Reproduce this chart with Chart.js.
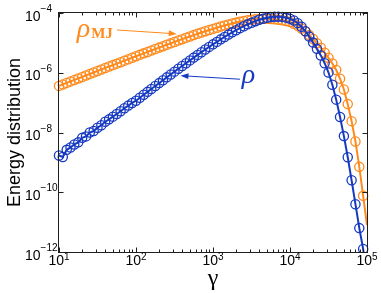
<!DOCTYPE html>
<html>
<head>
<meta charset="utf-8">
<script src="https://cdn.jsdelivr.net/npm/chart.js@4.4.1/dist/chart.umd.min.js"></script>
<style>
  html, body { margin: 0; padding: 0; background: #fff; }
  canvas { display: block; }
</style>
</head>
<body>
<canvas id="myChart" width="381" height="293"></canvas>
<script>
// gamma grid (20 points per decade)
const gamma = [10, 11.2, 12.6, 14.1, 15.8, 17.8, 20, 22.4, 25.1, 28.2,
  31.6, 35.5, 39.8, 44.7, 50.1, 56.2, 63.1, 70.8, 79.4, 89.1,
  100, 112, 126, 141, 158, 178, 200, 224, 251, 282,
  316, 355, 398, 447, 501, 562, 631, 708, 794, 891,
  1000, 1122, 1259, 1413, 1585, 1778, 1995, 2239, 2512, 2818,
  3162, 3548, 3981, 4467, 5012, 5623, 6310, 7079, 7943, 8913,
  10000, 11220, 12589, 14125, 15849, 17783, 19953, 22387, 25119, 28184,
  31623, 35481, 39811, 44668, 50119, 56234, 63096, 70795, 79433, 89125,
  100000];

// Maxwell-Juttner energy distribution (orange)
const rhoMJ = [3.63e-7, 4.07e-7, 4.57e-7, 5.13e-7, 5.75e-7, 6.46e-7, 7.24e-7, 8.13e-7, 9.12e-7, 1.02e-6,
  1.15e-6, 1.29e-6, 1.45e-6, 1.62e-6, 1.80e-6, 2.02e-6, 2.26e-6, 2.54e-6, 2.84e-6, 3.18e-6,
  3.56e-6, 3.98e-6, 4.46e-6, 4.98e-6, 5.57e-6, 6.22e-6, 6.95e-6, 7.76e-6, 8.65e-6, 9.64e-6,
  1.07e-5, 1.20e-5, 1.33e-5, 1.48e-5, 1.64e-5, 1.82e-5, 2.01e-5, 2.22e-5, 2.44e-5, 2.69e-5,
  2.94e-5, 3.22e-5, 3.52e-5, 3.82e-5, 4.13e-5, 4.46e-5, 4.78e-5, 5.09e-5, 5.40e-5, 5.69e-5,
  5.94e-5, 6.15e-5, 6.30e-5, 6.38e-5, 6.40e-5, 6.32e-5, 6.17e-5, 5.96e-5, 5.69e-5, 5.37e-5,
  5.01e-5, 4.37e-5, 3.72e-5, 3.02e-5, 2.40e-5, 1.82e-5, 1.35e-5, 9.77e-6, 6.92e-6, 4.68e-6,
  3.16e-6, 2.04e-6, 1.23e-6, 6.31e-7, 2.75e-7, 8.91e-8, 2.40e-8, 5.01e-9, 7.08e-10, 7.59e-11,
  7.94e-12];

// measured distribution rho (blue)
const rho = [1.70e-9, 1.51e-9, 2.63e-9, 3.16e-9, 3.98e-9, 4.68e-9, 6.61e-9, 7.41e-9, 1.00e-8, 1.12e-8,
  1.45e-8, 1.74e-8, 2.29e-8, 2.75e-8, 3.39e-8, 4.17e-8, 5.13e-8, 6.46e-8, 7.94e-8, 9.77e-8,
  1.16e-7, 1.46e-7, 1.83e-7, 2.29e-7, 2.87e-7, 3.59e-7, 4.50e-7, 5.62e-7, 7.01e-7, 8.75e-7,
  1.09e-6, 1.36e-6, 1.69e-6, 2.09e-6, 2.59e-6, 3.21e-6, 3.96e-6, 4.88e-6, 5.98e-6, 7.33e-6,
  8.93e-6, 1.08e-5, 1.31e-5, 1.58e-5, 1.89e-5, 2.25e-5, 2.65e-5, 3.11e-5, 3.62e-5, 4.17e-5,
  4.74e-5, 5.33e-5, 5.92e-5, 6.46e-5, 6.93e-5, 7.29e-5, 7.52e-5, 7.55e-5, 7.40e-5, 7.00e-5,
  6.41e-5, 5.62e-5, 4.57e-5, 3.47e-5, 2.45e-5, 1.62e-5, 1.02e-5, 6.31e-6, 3.80e-6, 2.09e-6,
  1.02e-6, 3.98e-7, 1.26e-7, 3.31e-8, 7.59e-9, 1.48e-9, 2.51e-10, 3.98e-11, 6.31e-12, 1.26e-12,
  1.0e-13];

// tick values and labels
const xTicks = [10, 100, 1000, 10000, 100000];
const xTickExp = ['1', '2', '3', '4', '5'];
const yTicks = [1e-4, 1e-6, 1e-8, 1e-10, 1e-12];
const yTickExp = ['\u22124', '\u22126', '\u22128', '\u221210', '\u221212'];

const orange = '#ff8a1c';
const blue = '#1639c2';

// last point of each curve is line only (no marker)
const lastNoMarker = (ctx) => ctx.dataIndex === gamma.length - 1 ? 0 : 4.6;

const decorations = {
    id: 'decorations',
    afterDatasetsDraw(chart) {
        const ctx = chart.ctx;
        const a = chart.chartArea;
        const xs = chart.scales.x;
        const ys = chart.scales.y;
        const L = Math.round(a.left) - 0.5, R = Math.round(a.right) + 0.5;
        const T = Math.round(a.top) - 0.5, B = Math.round(a.bottom) + 0.5;
        ctx.save();
        ctx.strokeStyle = '#1e1e1e';
        ctx.lineWidth = 1;
        ctx.strokeRect(L, T, R - L, B - T);

        // x ticks, major + minor, top and bottom, pointing inwards
        ctx.beginPath();
        for (let d = 1; d <= 5; d++) {
            for (let m = 1; m <= 9; m++) {
                const v = m * Math.pow(10, d);
                if (v > 1e5) break;
                const px = Math.round(xs.getPixelForValue(v)) + 0.5;
                const len = m === 1 ? 5 : 3;
                ctx.moveTo(px, B); ctx.lineTo(px, B - len);
                ctx.moveTo(px, T); ctx.lineTo(px, T + len);
            }
        }
        // y ticks
        for (const v of yTicks) {
            const py = Math.round(ys.getPixelForValue(v)) + 0.5;
            ctx.moveTo(L, py); ctx.lineTo(L + 5, py);
            ctx.moveTo(R, py); ctx.lineTo(R - 5, py);
        }
        ctx.stroke();

        // tick labels "10" with superscript exponent
        ctx.fillStyle = '#000';
        ctx.textBaseline = 'alphabetic';
        const baseFont = '14px "Liberation Sans", Arial, sans-serif';
        const supFont = '10px "Liberation Sans", Arial, sans-serif';
        xTicks.forEach((v, i) => {
            const px = xs.getPixelForValue(v);
            ctx.font = baseFont;
            const wb = ctx.measureText('10').width;
            ctx.font = supFont;
            const we = ctx.measureText(xTickExp[i]).width;
            const x0 = px - (wb + we) / 2;
            ctx.font = baseFont;
            ctx.textAlign = 'left';
            ctx.fillText('10', x0, a.bottom + 13);
            ctx.font = supFont;
            ctx.fillText(xTickExp[i], x0 + wb, a.bottom + 8);
        });
        yTicks.forEach((v, i) => {
            const py = ys.getPixelForValue(v);
            ctx.font = baseFont;
            ctx.textAlign = 'left';
            const wb = ctx.measureText('10').width;
            ctx.fillText('10', 25, py + 7.5);
            ctx.font = supFont;
            ctx.fillText(yTickExp[i], 25 + wb, py - 1);
        });

        // axis titles
        ctx.font = '24px "Liberation Serif", "Times New Roman", serif';
        ctx.textAlign = 'center';
        ctx.fillText('\u03b3', (a.left + a.right) / 2, 285);
        ctx.save();
        ctx.translate(19.5, (a.top + a.bottom) / 2);
        ctx.rotate(-Math.PI / 2);
        ctx.font = '18px "Liberation Sans", Arial, sans-serif';
        ctx.fillText('Energy distribution', 0, 0);
        ctx.restore();

        // annotations with arrows
        const arrow = (x1, y1, x2, y2, col) => {
            const p1 = [xs.getPixelForValue(x1), ys.getPixelForValue(y1)];
            const p2 = [xs.getPixelForValue(x2), ys.getPixelForValue(y2)];
            const ang = Math.atan2(p2[1] - p1[1], p2[0] - p1[0]);
            ctx.strokeStyle = col;
            ctx.fillStyle = col;
            ctx.lineWidth = 1;
            ctx.beginPath();
            ctx.moveTo(p1[0], p1[1]);
            ctx.lineTo(p2[0] - 5 * Math.cos(ang), p2[1] - 5 * Math.sin(ang));
            ctx.stroke();
            ctx.beginPath();
            ctx.moveTo(p2[0], p2[1]);
            ctx.lineTo(p2[0] - 8 * Math.cos(ang) + 3 * Math.sin(ang), p2[1] - 8 * Math.sin(ang) - 3 * Math.cos(ang));
            ctx.lineTo(p2[0] - 8 * Math.cos(ang) - 3 * Math.sin(ang), p2[1] - 8 * Math.sin(ang) + 3 * Math.cos(ang));
            ctx.closePath();
            ctx.fill();
        };
        arrow(56.6, 2.7e-5, 338, 2.0e-5, orange);
        arrow(2244, 6.07e-7, 378, 8.0e-7, blue);

        ctx.textAlign = 'left';
        ctx.fillStyle = orange;
        ctx.font = 'italic 28px "Liberation Serif", "Times New Roman", serif';
        const ox = xs.getPixelForValue(17), oy = ys.getPixelForValue(1.58e-5);
        ctx.fillText('\u03c1', ox, oy);
        const wr = ctx.measureText('\u03c1').width;
        ctx.font = 'bold 15px "Liberation Serif", "Times New Roman", serif';
        ctx.fillText('MJ', ox + wr + 1, oy + 1.5);

        ctx.fillStyle = blue;
        ctx.font = 'italic 28px "Liberation Serif", "Times New Roman", serif';
        ctx.fillText('\u03c1', xs.getPixelForValue(2355), ys.getPixelForValue(4.7e-7));
        ctx.restore();
    }
};

const clipArea = { left: 8, top: 8, right: 8, bottom: 0 };

const ctx = document.getElementById('myChart').getContext('2d');
const myChart = new Chart(ctx, {
    type: 'line',
    data: {
        datasets: [{
            label: 'rho',
            data: gamma.map((g, i) => ({ x: g, y: rho[i] })),
            borderColor: blue,
            borderWidth: 2,
            pointRadius: lastNoMarker,
            pointBorderWidth: 1.3,
            pointBorderColor: blue,
            pointBackgroundColor: 'rgba(0,0,0,0)',
            tension: 0,
            clip: clipArea,
            order: 0
        }, {
            label: 'rhoMJ',
            data: gamma.map((g, i) => ({ x: g, y: rhoMJ[i] })),
            borderColor: orange,
            borderWidth: 2,
            pointRadius: lastNoMarker,
            pointBorderWidth: 1.3,
            pointBorderColor: orange,
            pointBackgroundColor: 'rgba(0,0,0,0)',
            tension: 0,
            clip: clipArea,
            order: 1
        }]
    },
    options: {
        responsive: false,
        animation: false,
        devicePixelRatio: 1,
        layout: { padding: { left: 59, top: 13, right: 14, bottom: 41 } },
        plugins: { legend: { display: false }, tooltip: { enabled: false } },
        scales: {
            x: { type: 'logarithmic', min: 10, max: 100000, display: false },
            y: { type: 'logarithmic', min: 1e-12, max: 1e-4, display: false }
        }
    },
    plugins: [decorations]
});
</script>
</body>
</html>
